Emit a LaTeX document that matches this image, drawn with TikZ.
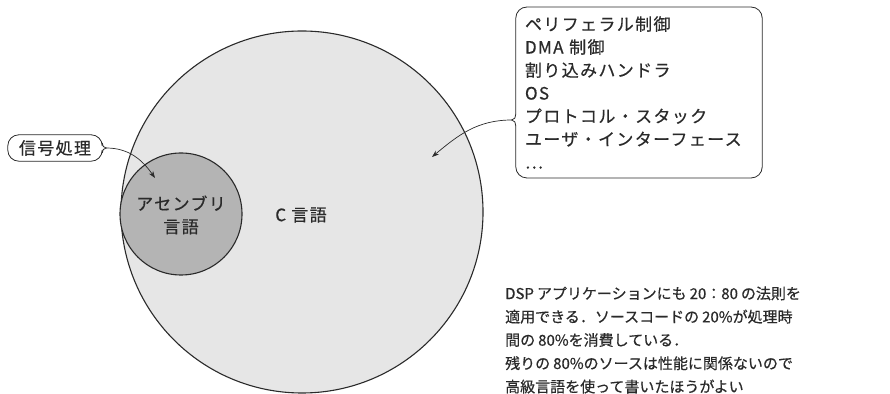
\documentclass[tikz,border=0pt]{standalone}
\usepackage{fontspec}
\setmainfont{Noto Sans CJK JP}
\newfontfamily\jpa[LetterSpace=8,FakeBold=0.5]{Noto Sans CJK JP}
\newfontfamily\jpb[FakeBold=0.5]{Noto Sans CJK JP}
\usetikzlibrary{arrows.meta}
\definecolor{ink}{HTML}{2A2A2A}
\definecolor{lightfill}{HTML}{E6E6E6}
\definecolor{darkfill}{HTML}{B4B4B4}
\newcommand{\gap}{\hspace{3pt}}
\tikzset{
  bigtext/.style={font=\jpa\fontsize{17}{23}\selectfont, text=ink},
  smalltext/.style={font=\jpb\fontsize{15}{23.3}\selectfont, text=ink},
  outline/.style={draw=ink, line width=1.1pt},
  conn/.style={draw=ink, line width=0.7pt, -{Stealth[length=7pt,width=5pt]}},
  edge/.style={draw=ink, line width=0.8pt},
}
\begin{document}
\begin{tikzpicture}[x=1pt,y=1pt]
\useasboundingbox (0,0) rectangle (890,393);
% circles
\node[circle, outline, fill=lightfill, minimum size=362pt, inner sep=0pt] (cbig) at (302,181) {};
\node[circle, outline, fill=darkfill, minimum size=122pt, inner sep=0pt] (csmall) at (181,179) {};
\node[bigtext, align=center] (asm) at (181,178) {アセンブリ\\言語};
\node[bigtext] (clang) at (301,178) {C 言語};
% signal processing label
\node[bigtext, minimum width=94pt, minimum height=26pt, inner sep=0pt] (sig) at (55,245) {信号処理};
\draw[edge, rounded corners=11pt] ([yshift=-5pt]sig.east) -- (sig.south east) -- (sig.south west) -- (sig.north west) -- (sig.north east) -- ([yshift=5pt]sig.east);
\draw[edge] ([yshift=5pt]sig.east) to[out=-90,in=180] ([xshift=4pt]sig.east) to[out=180,in=90] ([yshift=-5pt]sig.east);
\coordinate (sigtip) at ([xshift=4pt]sig.east);
\coordinate (sigend) at (155,215);
\draw[conn] (sigtip) to[out=0,in=125] (sigend);
% list box
\node[bigtext, align=left, text width=228pt, minimum height=165pt, inner sep=9pt, anchor=center] (list) at (639,300.5) {ペリフェラル制御\\DMA 制御\\割り込みハンドラ\\OS\\プロトコル・スタック\\ユーザ・インターフェース\\…};
\coordinate (lnotch) at ([yshift=-27.5pt]list.west);
\draw[edge, rounded corners=11pt] ([yshift=6pt]lnotch) -- (list.north west) -- (list.north east) -- (list.south east) -- (list.south west) -- ([yshift=-6pt]lnotch);
\draw[edge] ([yshift=-6pt]lnotch) to[out=90,in=0] ([xshift=-4pt]lnotch) to[out=0,in=-90] ([yshift=6pt]lnotch);
\coordinate (listtip) at ([xshift=-4pt]lnotch);
\coordinate (listend) at (432,236);
\draw[conn] (listtip) to[out=180,in=40] (listend);
% note
\node[smalltext, align=left, anchor=west, inner sep=0pt] (note) at (505,53) {DSP\gap アプリケーションにも\gap 20：80\gap の法則を\\適用できる．ソースコードの\gap 20\%が処理時\\間の\gap 80\%を消費している．\\残りの\gap 80\%のソースは性能に関係ないので\\高級言語を使って書いたほうがよい};
\end{tikzpicture}
\end{document}
